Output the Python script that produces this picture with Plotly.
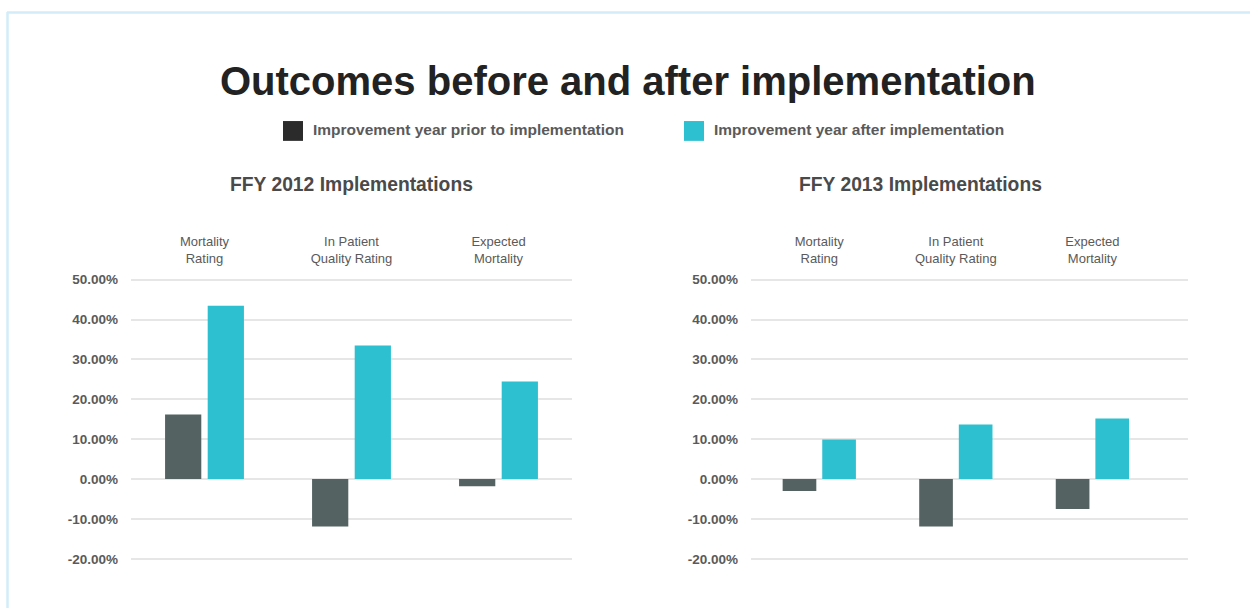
import plotly.graph_objects as go

# ---------------------------------------------------------------------------
# Data (percent improvement)
# ---------------------------------------------------------------------------
CATEGORIES = ["Mortality<br>Rating", "In Patient<br>Quality Rating", "Expected<br>Mortality"]
SERIES_NAMES = ["Improvement year prior to implementation", "Improvement year after implementation"]

FFY2012_PRIOR = [16.2, -11.9, -1.8]
FFY2012_AFTER = [43.5, 33.5, 24.5]
FFY2013_PRIOR = [-3.0, -11.9, -7.5]
FFY2013_AFTER = [9.9, 13.7, 15.2]

Y_TICKS = [-20, -10, 0, 10, 20, 30, 40, 50]
Y_TICK_LABELS = ["-20.00%", "-10.00%", "0.00%", "10.00%", "20.00%", "30.00%", "40.00%", "50.00%"]

PANEL_TITLES = ["FFY 2012 Implementations", "FFY 2013 Implementations"]
TITLE = "Outcomes before and after implementation"

DARK = "#546262"
CYAN = "#2dc0d0"
LEGEND_DARK = "#2b2b2b"
GRID = "#e6e6e6"
TEXT_GRAY = "#5a5a5a"
FRAME = "#d2ecf8"
FONT = "Liberation Sans, Arial, sans-serif"

W, H = 1250, 608


def px(x):
    return x / W


def py(y):
    return 1 - y / H


fig = go.Figure()
for i, (prior, after) in enumerate([(FFY2012_PRIOR, FFY2012_AFTER), (FFY2013_PRIOR, FFY2013_AFTER)]):
    xa = "x" if i == 0 else "x2"
    ya = "y" if i == 0 else "y2"
    fig.add_trace(go.Bar(x=CATEGORIES, y=prior, name=SERIES_NAMES[0], marker=dict(color=DARK, line_width=0),
                         xaxis=xa, yaxis=ya, showlegend=False))
    fig.add_trace(go.Bar(x=CATEGORIES, y=after, name=SERIES_NAMES[1], marker=dict(color=CYAN, line_width=0),
                         xaxis=xa, yaxis=ya, showlegend=False))

xcommon = dict(type="category", side="top", showgrid=False, showline=False, zeroline=False, ticks="",
               tickfont=dict(family=FONT, size=13, color=TEXT_GRAY), ticklabelstandoff=11, fixedrange=True)
ycommon = dict(range=[-22, 50.5], tickvals=Y_TICKS, ticktext=Y_TICK_LABELS,
               showgrid=True, gridcolor=GRID, gridwidth=2, zeroline=False, showline=False, ticks="",
               tickfont=dict(family=FONT, size=13.5, color=TEXT_GRAY, weight="bold"), ticklabelstandoff=12,
               domain=[py(566.4), py(275)], fixedrange=True)

fig.update_layout(
    width=W, height=H, margin=dict(l=0, r=0, t=0, b=0),
    paper_bgcolor="white", plot_bgcolor="white",
    barmode="group", bargap=0.42, bargroupgap=0.15,
    xaxis=dict(xcommon, domain=[px(131), px(572)], range=[-0.5, 2.5], anchor="y"),
    xaxis2=dict(xcommon, domain=[px(751), px(1188)], range=[-0.5, 2.7], anchor="y2"),
    yaxis=dict(ycommon, anchor="x"),
    yaxis2=dict(ycommon, anchor="x2"),
    showlegend=False,
)

# main title
fig.add_annotation(text=f"<b>{TITLE}</b>", x=px(628), y=py(77), xref="paper", yref="paper",
                   showarrow=False, font=dict(family=FONT, size=40, color="#222222"),
                   xanchor="center", yanchor="middle")

# panel titles
for title, cx in zip(PANEL_TITLES, [351, 920]):
    fig.add_annotation(text=f"<b>{title}</b>", x=px(cx), y=py(181), xref="paper", yref="paper",
                       showarrow=False, font=dict(family=FONT, size=19.3, color="#4a4a4a"),
                       xanchor="center", yanchor="middle")

# manual legend
for name, color, x0 in zip(SERIES_NAMES, [LEGEND_DARK, CYAN], [283, 684]):
    fig.add_shape(type="rect", xref="paper", yref="paper", x0=px(x0), x1=px(x0 + 20),
                  y0=py(137), y1=py(117), fillcolor=color, line_width=0)
    fig.add_annotation(text=f"<b>{name}</b>", x=px(x0 + 28), y=py(126), xref="paper", yref="paper",
                       showarrow=False, font=dict(family=FONT, size=15.5, color=TEXT_GRAY),
                       xanchor="left", yanchor="middle")

# light blue frame (top and left edges)
fig.add_shape(type="line", xref="paper", yref="paper", x0=px(7), x1=px(1250), y0=py(7.5), y1=py(7.5),
              line=dict(color=FRAME, width=2.5))
fig.add_shape(type="line", xref="paper", yref="paper", x0=px(7.5), x1=px(7.5), y0=py(7), y1=py(608),
              line=dict(color=FRAME, width=2.5))

fig.write_html("out.html", config={"displayModeBar": False},
               post_script="document.body.style.margin='0';")
